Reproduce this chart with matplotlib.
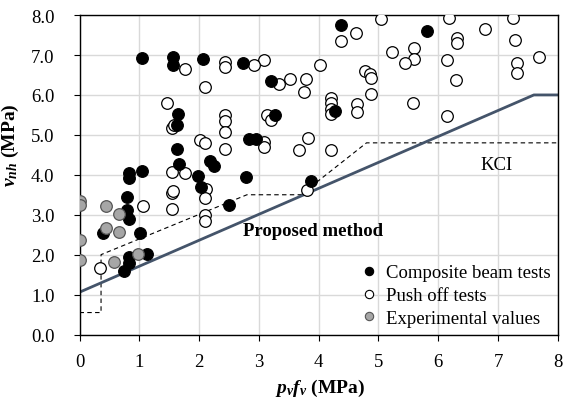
import matplotlib
matplotlib.use("Agg")
import matplotlib.pyplot as plt
from matplotlib.lines import Line2D

plt.rcParams['font.family'] = ['Liberation Serif', 'DejaVu Serif']
plt.rcParams['mathtext.fontset'] = 'custom'
plt.rcParams['mathtext.rm'] = 'Liberation Serif'
plt.rcParams['mathtext.it'] = 'Liberation Serif:italic'
plt.rcParams['mathtext.bf'] = 'Liberation Serif:bold'
plt.rcParams['mathtext.bfit'] = 'Liberation Serif:italic:bold'

# Composite beam tests (p_v f_v, v_nh) in MPa
comp_x = [1.04, 1.56, 1.56, 2.07, 2.74, 3.21, 4.37, 5.81, 1.64, 1.63, 3.27, 4.28,
          1.63, 1.67, 2.18, 2.25, 2.83, 2.96, 1.04, 0.82, 0.82, 1.98, 2.04, 2.78,
          3.87, 2.50, 0.79, 0.79, 0.83, 0.40, 1.01, 1.13, 0.83, 0.83, 0.74]
comp_y = [6.93, 6.95, 6.76, 6.90, 6.80, 6.36, 7.75, 7.60, 5.53, 5.24, 5.51, 5.61,
          4.64, 4.28, 4.35, 4.22, 4.89, 4.90, 4.10, 4.04, 3.93, 3.98, 3.70, 3.95,
          3.84, 3.24, 3.45, 3.12, 2.90, 2.55, 2.53, 2.01, 1.93, 1.80, 1.58]

# Push off tests
push_x = [1.76, 2.43, 2.43, 2.10, 1.47, 1.55, 1.58, 2.43, 2.43, 2.43, 2.01, 2.10,
          2.43, 1.54, 1.76, 3.09, 2.92, 3.34, 3.52, 3.78, 3.75, 4.02, 3.13, 3.20,
          3.09, 3.09, 3.67, 3.82, 3.80, 5.05, 4.62, 4.37, 5.22, 4.77, 4.86, 4.87,
          4.87, 4.21, 4.21, 4.21, 4.21, 4.64, 4.64, 4.21, 6.18, 7.25, 6.79, 6.31,
          6.31, 7.29, 5.59, 5.59, 5.44, 6.15, 7.69, 7.31, 7.31, 6.30, 5.58, 6.15,
          1.07, 2.12, 2.10, 2.10, 2.10, 1.54, 1.57, 1.54, 0.35]
push_y = [6.64, 6.83, 6.70, 6.20, 5.80, 5.18, 5.25, 5.49, 5.35, 5.07, 4.86, 4.79,
          4.64, 4.07, 4.04, 6.88, 6.75, 6.28, 6.39, 6.39, 6.07, 6.75, 5.51, 5.38,
          4.83, 4.69, 4.63, 4.91, 3.62, 7.91, 7.55, 7.35, 7.07, 6.60, 6.53, 6.43,
          6.03, 5.93, 5.80, 5.66, 5.53, 5.78, 5.58, 4.61, 7.93, 7.93, 7.66, 7.43,
          7.29, 7.37, 7.18, 6.90, 6.80, 6.87, 6.96, 6.79, 6.55, 6.37, 5.79, 5.47,
          3.22, 3.64, 3.43, 3.00, 2.85, 3.55, 3.60, 3.15, 1.66]

# Experimental values
exp_x = [0.0, 0.0, 0.44, 0.66, 0.44, 0.66, 0.0, 0.0, 0.57, 0.98]
exp_y = [3.35, 3.24, 3.22, 3.03, 2.68, 2.57, 2.36, 1.87, 1.82, 2.01]

# Design lines
prop_x = [0.0, 7.6, 8.0]
prop_y = [1.06, 6.0, 6.0]
kci_x = [0.0, 0.36, 0.36, 2.8, 3.7, 4.8, 8.0]
kci_y = [0.55, 0.55, 2.0, 3.5, 3.5, 4.8, 4.8]

x_ticks = [0, 1, 2, 3, 4, 5, 6, 7, 8]
y_ticks = [0, 1, 2, 3, 4, 5, 6, 7, 8]

fig = plt.figure(figsize=(5.64, 4.02), dpi=100)
ax = fig.add_axes([0.141, 0.1654, 0.848, 0.7946])

ax.plot(kci_x, kci_y, color='black', lw=0.8, ls=(0, (4, 3)), zorder=2)
ax.plot(prop_x, prop_y, color='#44546a', lw=2.0, zorder=2)

ms = 70
ax.scatter(push_x, push_y, s=ms, facecolor='white', edgecolor='black', linewidth=0.9, zorder=3)
ax.scatter(comp_x, comp_y, s=ms, facecolor='black', edgecolor='black', linewidth=0.9, zorder=4)
ax.scatter(exp_x, exp_y, s=ms, facecolor='#a6a6a6', edgecolor='#555555', linewidth=0.9, zorder=5)

ax.set_xlim(0, 8)
ax.set_ylim(0, 8)
ax.set_xticks(x_ticks)
ax.set_yticks(y_ticks)
ax.set_xticklabels([str(t) for t in x_ticks])
ax.set_yticklabels([f"{t:.1f}" for t in y_ticks])
ax.tick_params(axis='both', direction='out', length=4, width=0.8, labelsize=13.5, colors='black')
ax.tick_params(axis='y', pad=14)
ax.tick_params(axis='x', pad=9)
ax.grid(True, color='#d9d9d9', lw=1.0, zorder=0)
ax.set_axisbelow(True)
for sp in ax.spines.values():
    sp.set_color('black')
    sp.set_linewidth(1.0)

ax.set_xlabel(r'$\mathbfit{p_v f_v}$ (MPa)', fontsize=14, fontweight='bold')
ax.xaxis.set_label_coords(0.503, -0.133)
ax.set_ylabel(r'$\mathbfit{v_{nh}}$ (MPa)', fontsize=14, fontweight='bold')
ax.yaxis.set_label_coords(-0.122, 0.595)

ax.text(2.74, 2.6, 'Proposed method', fontsize=13.5, fontweight='bold', ha='left', va='center')
ax.text(6.98, 4.27, 'KCI', fontsize=13.5, ha='center', va='center')

handles = [
    Line2D([], [], ls='none', marker='o', ms=6, mfc='black', mec='black', mew=0.8),
    Line2D([], [], ls='none', marker='o', ms=6, mfc='white', mec='black', mew=0.8),
    Line2D([], [], ls='none', marker='o', ms=6, mfc='#a6a6a6', mec='#555555', mew=0.8),
]
labels = ['Composite beam tests', 'Push off tests', 'Experimental values']
ax.legend(handles, labels, loc='lower right', bbox_to_anchor=(1.0, 0.0), frameon=False,
          fontsize=13.5, handlelength=0.8, handletextpad=0.5, labelspacing=0.31,
          borderaxespad=0.0)

fig.savefig('out.png', dpi=100)
